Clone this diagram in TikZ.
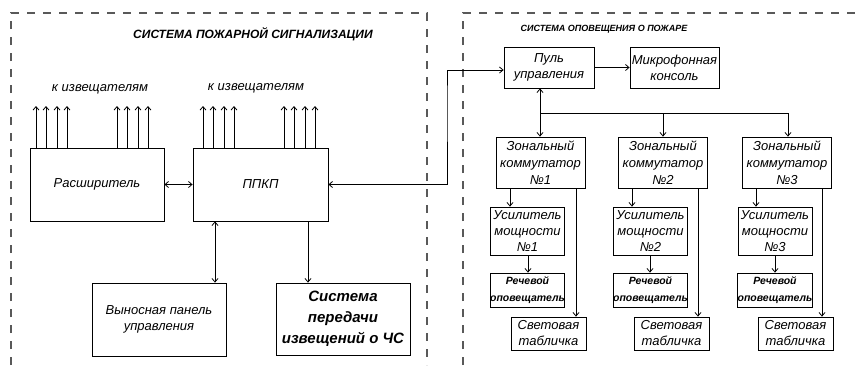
\documentclass[tikz,border=0pt]{standalone}
\usepackage{fontspec}
\setmainfont{Liberation Sans}
\usetikzlibrary{arrows.meta}
\begin{document}
\begin{tikzpicture}[x=1pt,y=-1pt,
  >={Straight Barb[length=3.5pt,width=6pt]},
  line/.style={draw=black, line width=0.8pt},
  box/.style={draw=black, line width=0.8pt, inner sep=0pt, align=center,
    font=\itshape\fontsize{13}{16}\selectfont},
  bbox/.style={box, font=\bfseries\itshape\fontsize{15}{21}\selectfont},
  sbox/.style={box, font=\bfseries\itshape\fontsize{10.5}{17}\selectfont},
  frame/.style={draw=black!65, line width=1.3pt, dash pattern=on 8pt off 8pt},
  lbl/.style={font=\itshape\fontsize{13}{16}\selectfont, inner sep=0pt},
  ttl/.style={font=\bfseries\itshape\fontsize{12}{14}\selectfont, inner sep=0pt}]
\useasboundingbox (0,0) rectangle (857,365);

% frames
\draw[frame] (11,365) -- (11,13) -- (427,13) -- (427,365);
\draw[frame] (463,365) -- (463,13) -- (857,13);

% titles
\node[ttl] (t1) at (253,34) {СИСТЕМА ПОЖАРНОЙ СИГНАЛИЗАЦИИ};
\node[ttl, font=\bfseries\itshape\fontsize{9}{11}\selectfont] (t2) at (604,29) {СИСТЕМА ОПОВЕЩЕНИЯ О ПОЖАРЕ};
\node[lbl] (k1) at (100,89) {к извещателям};
\node[lbl] (k2) at (256,88) {к извещателям};

% left boxes
\node[box, minimum width=134pt, minimum height=73pt] (R) at (97,184.5) {Расширитель};
\node[box, minimum width=135pt, minimum height=73pt] (P) at (260.5,184.5) {ППКП};
\node[box, minimum width=134pt, minimum height=73pt] (V) at (159,319.5) {Выносная панель\\управления};
\node[bbox, minimum width=134pt, minimum height=72pt] (S) at (343,319) {Система\\передачи\\извещений о ЧС};

% right boxes
\node[box, minimum width=90pt, minimum height=41pt] (PU) at (549,67.5) {Пуль\\управления};
\node[box, minimum width=89pt, minimum height=41pt] (MK) at (674.5,67.5) {Микрофонная\\консоль};

\foreach \i/\zc/\ac/\lc in {1/540.5/527.5/548.5, 2/663/650.5/671.5, 3/787/775/795.5}{
  \node[box, minimum width=89pt, minimum height=51pt, font=\itshape\fontsize{13}{17}\selectfont] (Z\i) at (\zc,162.5) {Зональный\\коммутатор\\№\i};
  \node[box, minimum width=74pt, minimum height=48pt] (A\i) at (\ac,231) {Усилитель\\мощности\\№\i};
  \node[sbox, minimum width=74pt, minimum height=34pt] (SP\i) at (\ac,290) {Речевой\\оповещатель};
  \node[box, minimum width=75pt, minimum height=33pt] (L\i) at (\lc,333.5) {Световая\\табличка};
}

% arrows to detectors
\foreach \x in {36,46,57,67,117,127,138,148}{
  \coordinate (u) at (\x,106);
  \draw[line,->] (R.north -| u) -- (u);
}
\foreach \x in {203,213,224,234,284,294,305,315}{
  \coordinate (u) at (\x,106);
  \draw[line,->] (P.north -| u) -- (u);
}

% left connectors
\draw[line,<->] (R.east) -- (P.west);
\coordinate (cv) at (215,0);
\draw[line,<->] (P.south -| cv) -- (V.north -| cv);
\coordinate (cs) at (308,0);
\draw[line,->] (P.south -| cs) -- (S.north -| cs);
\coordinate (bend) at (447,100);
\coordinate (pin) at (0,70);
\draw[line,<->] (P.east) -| (bend) |- (PU.west |- pin);

% right connectors
\draw[line,->] (PU.east) -- (MK.west);
\coordinate (b1) at (540,113);
\coordinate (b2) at (663,113);
\coordinate (b3) at (788,113);
\draw[line,->] (b1) -- (PU.south -| b1);
\draw[line] (b1) -- (b3);
\draw[line,->] (b1) -- (Z1.north -| b1);
\draw[line,->] (b2) -- (Z2.north -| b2);
\draw[line,->] (b3) -- (Z3.north -| b3);

\foreach \i/\xa/\xs/\xl in {1/510/528/576, 2/632/650/698, 3/756/775/822}{
  \coordinate (ca) at (\xa,0);
  \coordinate (cs) at (\xs,0);
  \coordinate (cl) at (\xl,0);
  \draw[line,->] (Z\i.south -| ca) -- (A\i.north -| ca);
  \draw[line,->] (A\i.south -| cs) -- (SP\i.north -| cs);
  \draw[line,->] (Z\i.south -| cl) -- (L\i.north -| cl);
}
\end{tikzpicture}
\end{document}
